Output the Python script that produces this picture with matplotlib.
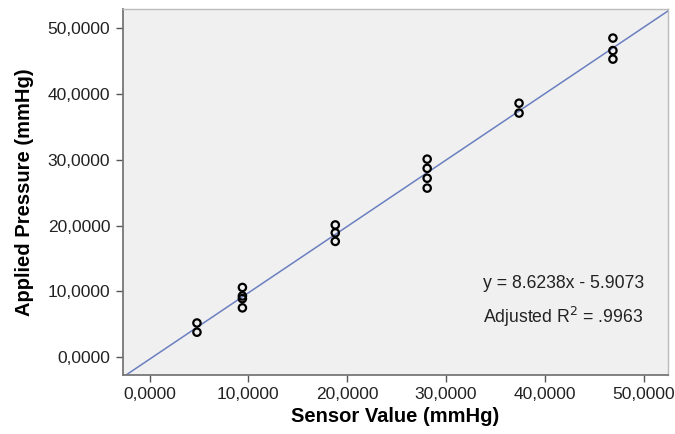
import numpy as np
import matplotlib
matplotlib.use("Agg")
import matplotlib.pyplot as plt

plt.rcParams['font.family'] = ['Liberation Sans', 'DejaVu Sans']

# readings
sensor = [4.8, 4.8,
          9.4, 9.4, 9.4, 9.4,
          18.8, 18.8, 18.8,
          28.1, 28.1, 28.1, 28.1,
          37.4, 37.4,
          46.9, 46.9, 46.9]
pressure = [5.2, 3.8,
            10.6, 9.3, 8.9, 7.5,
            20.1, 18.9, 17.6,
            30.1, 28.7, 27.2, 25.7,
            38.6, 37.1,
            48.5, 46.6, 45.3]
ticks = [0, 10, 20, 30, 40, 50]
tick_labels = ["0,0000", "10,0000", "20,0000", "30,0000", "40,0000", "50,0000"]
eq_text = "y = 8.6238x - 5.9073"
r2_text = "Adjusted R$^{2}$ = .9963"

fig = plt.figure(figsize=(6.75, 4.34), dpi=100)
ax = fig.add_axes([0.182, 0.136, 0.808, 0.843])
ax.set_facecolor("#f0f0f0")

xlim = (-2.7, 52.5)
ylim = (-2.7, 52.9)

# fit line across the whole plot
k, b = np.polyfit(sensor, pressure, 1)
xs = np.array(xlim)
ax.plot(xs, k * xs + b, color="#6b7fc0", lw=1.1, zorder=2)

ax.scatter(sensor, pressure, s=28, facecolors="none", edgecolors="black",
           linewidths=1.6, zorder=3)

ax.set_xlim(*xlim)
ax.set_ylim(*ylim)
ax.set_xticks(ticks)
ax.set_xticklabels(tick_labels)
ax.set_yticks(ticks)
ax.set_yticklabels(tick_labels)
ax.tick_params(direction="out", length=5, width=1, color="#555555",
               labelsize=12.5, labelcolor="#222222", pad=4)

for side in ["left", "bottom"]:
    ax.spines[side].set_color("#777777")
    ax.spines[side].set_linewidth(1.3)
for side in ["top", "right"]:
    ax.spines[side].set_color("#bbbbbb")
    ax.spines[side].set_linewidth(1.0)

ax.set_xlabel("Sensor Value (mmHg)", fontsize=14.5, fontweight="bold", labelpad=3)
ax.set_ylabel("Applied Pressure (mmHg)", fontsize=14.5, fontweight="bold", labelpad=10)

ax.text(33.8, 11.15, eq_text, fontsize=12.7, va="center", ha="left", color="#222222")
ax.text(33.8, 6.15, r2_text, fontsize=12.7, va="center", ha="left", color="#222222")

fig.savefig("out.png", dpi=100)
